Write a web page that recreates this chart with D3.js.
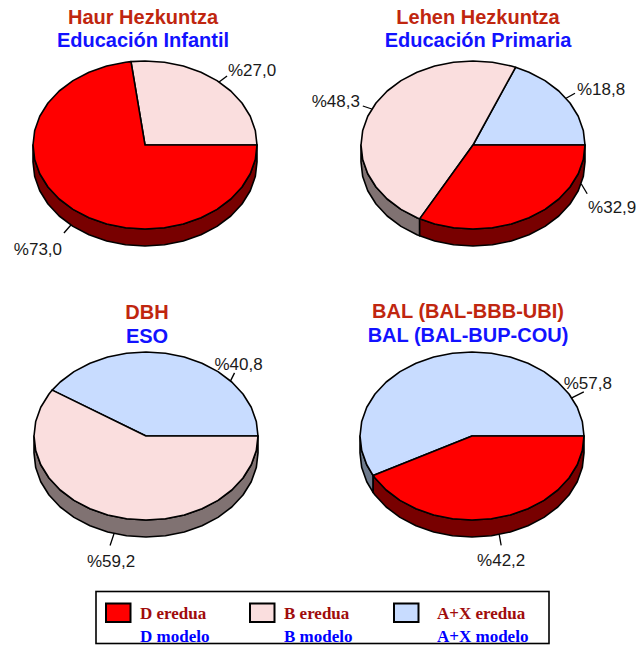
<!DOCTYPE html>
<html>
<head>
<meta charset="utf-8">
<script src="https://cdn.jsdelivr.net/npm/d3@7"></script>
<style>
  html, body { margin: 0; padding: 0; background: #ffffff; }
  svg { display: block; }
</style>
</head>
<body>
<svg id="chart" width="636" height="646"></svg>
<script>
// Education levels (Basque / Spanish titles)
const titlesEu = ["Haur Hezkuntza", "Lehen Hezkuntza", "DBH", "BAL (BAL-BBB-UBI)"];
const titlesEs = ["Educación Infantil", "Educación Primaria", "ESO", "BAL (BAL-BUP-COU)"];

// Linguistic models, in the order they run counter-clockwise from 3 o'clock
const models   = ["A+X", "B", "D"];
const legendEu = ["D eredua", "B eredua", "A+X eredua"];
const legendEs = ["D modelo", "B modelo", "A+X modelo"];
const legendKeys = ["D", "B", "A+X"];

// Percentage of pupils per model, one value per education level
const shareAX = [0, 18.8, 40.8, 57.8];
const shareB  = [27.0, 48.3, 59.2, 0];
const shareD  = [73.0, 32.9, 0, 42.2];

// ---- layout ----
const svg = d3.select("#chart");
const RX = 112, RY = 84, DEPTH = 17;
const centers = [[145, 145], [473, 145], [146, 436], [472, 436]];
const titleX = [143, 478, 147, 468];
const titleY = [[24, 47], [24, 47], [319, 343], [318, 342]];

// label placement: leader angle (null = slice middle), leader vector, text offset
const labelLayout = [
  { "B":   { ang: null, lead: [8, -6],  text: [25, 0] },
    "D":   { ang: null, lead: [-7, 8],  text: [-26, 22] } },
  { "A+X": { ang: null, lead: [9, -5],  text: [26, 2] },
    "B":   { ang: null, lead: [-9, -3], text: [-27, 1] },
    "D":   { ang: 345,  lead: [6, 10],  text: [25, 19] } },
  { "A+X": { ang: 41,   lead: [4, -8],  text: [4, -3] },
    "B":   { ang: null, lead: [-4, 12], text: [1, 21] } },
  { "A+X": { ang: 27,   lead: [12, -6], text: [4, -3] },
    "D":   { ang: null, lead: [2, 11],  text: [0, 21] } }
];

const topColor  = d3.scaleOrdinal().domain(["D", "B", "A+X"]).range(["#ff0000", "#fadede", "#c8dcff"]);
const sideColor = d3.scaleOrdinal().domain(["D", "B", "A+X"]).range(["#780000", "#807272", "#6e7a8c"]);

const pie = d3.pie().sort(null).value(d => d.value).startAngle(0).endAngle(2 * Math.PI);
const fmt = v => "%" + v.toFixed(1).replace(".", ",");

// parametric ellipse point (counter-clockwise from east)
function pt(c, a, dy = 0) {
  return [c[0] + RX * Math.cos(a), c[1] - RY * Math.sin(a) + dy];
}
// sample an arc as a faceted polyline
function arcPoints(c, a0, a1, dy = 0) {
  const step = Math.PI / 18;
  const pts = [pt(c, a0, dy)];
  let a = Math.ceil(a0 / step + 1e-9) * step;
  while (a < a1 - 1e-9) { pts.push(pt(c, a, dy)); a += step; }
  pts.push(pt(c, a1, dy));
  return pts;
}
const line = d3.line();

titlesEu.forEach((t, i) => {
  const c = centers[i];
  const g = svg.append("g");
  const data = models.map((m, k) => ({ model: m, value: [shareAX, shareB, shareD][k][i] }));
  const arcs = pie(data).filter(d => d.data.value > 0);

  // visible side wall (front half of the disc)
  arcs.forEach(d => {
    const s0 = Math.max(d.startAngle, Math.PI), s1 = Math.min(d.endAngle, 2 * Math.PI);
    if (s1 <= s0) return;
    const top = arcPoints(c, s0, s1);
    const bot = arcPoints(c, s0, s1, DEPTH).reverse();
    g.append("path")
      .attr("d", line(top.concat(bot)) + "Z")
      .attr("fill", sideColor(d.data.model))
      .attr("stroke", "#000").attr("stroke-width", 1.6).attr("stroke-linejoin", "round");
  });

  // top faces
  arcs.forEach(d => {
    const pts = [c].concat(arcPoints(c, d.startAngle, d.endAngle));
    g.append("path")
      .attr("d", line(pts) + "Z")
      .attr("fill", topColor(d.data.model))
      .attr("stroke", "#000").attr("stroke-width", 1.6).attr("stroke-linejoin", "round");
  });

  // value labels with leader lines
  arcs.forEach(d => {
    const L = labelLayout[i][d.data.model];
    const a = L.ang == null ? (d.startAngle + d.endAngle) / 2 : L.ang * Math.PI / 180;
    const A = pt(c, a, Math.sin(a) < 0 ? DEPTH : 0);
    const B = [A[0] + L.lead[0], A[1] + L.lead[1]];
    g.append("line")
      .attr("x1", A[0]).attr("y1", A[1]).attr("x2", B[0]).attr("y2", B[1])
      .attr("stroke", "#000").attr("stroke-width", 1.3);
    g.append("text")
      .attr("x", B[0] + L.text[0]).attr("y", B[1] + L.text[1])
      .attr("text-anchor", "middle")
      .attr("font-family", "Liberation Sans, Arial, sans-serif")
      .attr("font-size", 17).attr("fill", "#1a1a1a")
      .text(fmt(d.data.value));
  });

  // two-line title
  g.append("text")
    .attr("x", titleX[i]).attr("y", titleY[i][0])
    .attr("text-anchor", "middle")
    .attr("font-family", "Liberation Sans, Arial, sans-serif")
    .attr("font-size", 20).attr("font-weight", "bold").attr("fill", "#c0260f")
    .text(t);
  g.append("text")
    .attr("x", titleX[i]).attr("y", titleY[i][1])
    .attr("text-anchor", "middle")
    .attr("font-family", "Liberation Sans, Arial, sans-serif")
    .attr("font-size", 20).attr("font-weight", "bold").attr("fill", "#1212ff")
    .text(titlesEs[i]);
});

// ---- legend ----
const lg = svg.append("g");
const box = { x: 96, y: 591.5, w: 453, h: 52 };
const swatchX = [106, 250, 394];
const textX = [140, 284, 437];
legendKeys.forEach((k, j) => {
  lg.append("rect")
    .attr("x", swatchX[j]).attr("y", 603.5).attr("width", 24.5).attr("height", 18.5)
    .attr("fill", topColor(k)).attr("stroke", "#000").attr("stroke-width", 2);
  lg.append("text")
    .attr("x", textX[j]).attr("y", 619)
    .attr("font-family", "Liberation Serif, Times New Roman, serif")
    .attr("font-size", 17).attr("font-weight", "bold").attr("fill", "#a00c0c")
    .text(legendEu[j]);
  lg.append("text")
    .attr("x", textX[j]).attr("y", 641.5)
    .attr("font-family", "Liberation Serif, Times New Roman, serif")
    .attr("font-size", 17).attr("font-weight", "bold").attr("fill", "#0000ff")
    .text(legendEs[j]);
});
lg.append("rect")
  .attr("x", box.x).attr("y", box.y).attr("width", box.w).attr("height", box.h)
  .attr("fill", "none").attr("stroke", "#000").attr("stroke-width", 1.6);
</script>
</body>
</html>
